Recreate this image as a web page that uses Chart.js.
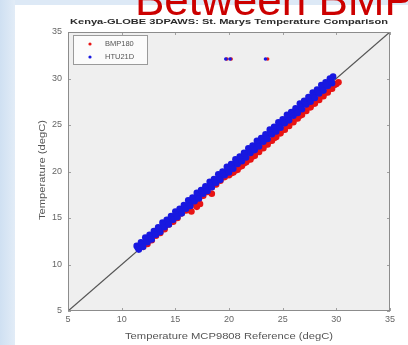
<!DOCTYPE html>
<html><head><meta charset="utf-8">
<script src="https://cdn.jsdelivr.net/npm/chart.js@4"></script>
<style>html,body{margin:0;padding:0;background:#fff;}#wrap{width:408px;height:345px;position:relative;}canvas{display:block;}</style>
</head><body><div id="wrap"><canvas id="c" width="408" height="345"></canvas></div>
<script>
// ---- data ----
const slideHeading = "Between BMP180 and HTU21D";
const chartTitle = "Kenya-GLOBE 3DPAWS: St. Marys Temperature Comparison";
const xAxisTitle = "Temperature MCP9808 Reference (degC)";
const yAxisTitle = "Temperature (degC)";
const tickValues = [5, 10, 15, 20, 25, 30, 35];
const seriesNames = ["BMP180", "HTU21D"];

// HTU21D (blue) – main band
const htuX = [11.4,11.8,12.2,12.6,13.0,13.4,13.8,14.2,14.6,15.0,15.4,15.8,16.2,16.6,17.0,17.4,17.8,18.2,18.6,19.0,19.4,19.8,20.2,20.6,21.0,21.4,21.8,22.2,22.6,23.0,23.4,23.8,24.2,24.6,25.0,25.4,25.8,26.2,26.6,27.0,27.4,27.8,28.2,28.6,29.0,29.4,29.7,
  11.5,11.9,12.3,12.7,13.1,13.5,13.9,14.3,14.7,15.1,15.5,15.9,16.3,16.7,17.1,17.5,17.9,18.3,18.7,19.1,19.5,19.9,20.3,20.7,21.1,21.5,21.9,22.3,22.7,23.1,23.5,23.9,24.3,24.7,25.1,25.5,25.9,26.3,26.7,27.1,27.5,27.9,28.3,28.7,29.1,29.5,
  11.6,12.0,12.4,12.8,13.2,13.6,14.0,14.4,14.8,15.2,15.6,16.0,16.4,16.8,17.2,17.6,18.0,18.4,18.8,19.2,19.6,20.0,20.4,20.8,21.2,21.6,22.0,22.4,22.8,23.2,23.6,24.0,24.4,24.8,25.2,25.6,26.0,26.4,26.8,27.2,27.6,28.0,28.4,28.8,29.2,29.6];
const htuY = [12.0,12.4,12.9,13.2,13.6,14.0,14.5,14.8,15.2,15.7,16.0,16.4,16.9,17.2,17.7,18.0,18.4,18.9,19.2,19.7,20.0,20.5,20.8,21.3,21.6,22.0,22.5,22.8,23.3,23.6,24.0,24.5,24.8,25.3,25.6,26.1,26.4,26.8,27.3,27.6,28.0,28.5,28.8,29.3,29.6,30.0,30.2,
  11.8,12.2,12.7,13.0,13.4,13.8,14.3,14.6,15.0,15.4,15.9,16.2,16.6,17.1,17.4,17.8,18.2,18.7,19.0,19.4,19.8,20.2,20.7,21.0,21.4,21.9,22.2,22.6,23.0,23.4,23.9,24.2,24.6,25.0,25.4,25.8,26.2,26.7,27.0,27.4,27.8,28.2,28.6,29.0,29.4,29.8,
  11.6,11.9,12.4,12.7,13.2,13.5,14.0,14.3,14.8,15.1,15.5,16.0,16.3,16.8,17.1,17.6,17.9,18.3,18.8,19.1,19.6,19.9,20.3,20.8,21.1,21.5,22.0,22.3,22.7,23.2,23.5,24.0,24.3,24.7,25.2,25.5,26.0,26.3,26.7,27.2,27.5,27.9,28.4,28.7,29.2,29.5];
// HTU21D – isolated readings near 32 degC
const htuOutX = [19.7, 20.1, 23.4];
const htuOutY = [32.1, 32.1, 32.1];

// BMP180 (red) – main band
const bmpX = [12.0,12.4,12.8,13.2,13.6,14.0,14.4,14.8,15.2,15.6,16.0,16.4,16.8,17.2,17.6,18.0,18.4,18.8,19.2,19.6,20.0,20.4,20.8,21.2,21.6,22.0,22.4,22.8,23.2,23.6,24.0,24.4,24.8,25.2,25.6,26.0,26.4,26.8,27.2,27.6,28.0,28.4,28.8,29.2,29.6,30.0,30.2,
  20.2,20.6,21.0,21.4,21.8,22.2,22.6,23.0,23.4,23.8,24.2,24.6,25.0,25.4,25.8,26.2,26.6,27.0,27.4,27.8,28.2,28.6,29.0,29.4,29.8,
  16.5,17.0,17.3,18.4];
const bmpY = [11.9,12.2,12.6,13.1,13.4,13.8,14.3,14.6,15.0,15.5,15.8,16.2,16.6,17.1,17.4,17.8,18.3,18.6,19.0,19.4,19.6,19.9,20.2,20.6,21.0,21.3,21.7,22.1,22.5,22.9,23.3,23.7,24.1,24.5,24.9,25.3,25.7,26.1,26.5,26.9,27.3,27.7,28.1,28.5,28.9,29.4,29.6,
  19.8,20.1,20.5,20.9,21.3,21.6,22.1,22.5,22.9,23.3,23.6,24.1,24.5,24.9,25.3,25.7,26.0,26.5,26.9,27.3,27.7,28.1,28.5,28.9,29.3,
  15.7,16.2,16.5,17.6];
// BMP180 – isolated readings near 32 degC
const bmpOutX = [19.8, 20.2, 23.6];
const bmpOutY = [32.1, 32.1, 32.1];

// 1:1 reference line
const refX = [5, 35];
const refY = [5, 35];

const pts = (xs, ys) => xs.map((x, i) => ({x: x, y: ys[i]}));
const colors = ["#e81414", "#1818e0"];

const FONT = "'Liberation Sans', Arial, sans-serif";
const PL = {left: 68, right: 390, top: 32, bottom: 311};

function fitText(ctx, text, cx, cy, font, targetW, rotate) {
  ctx.save();
  ctx.font = font;
  const w = ctx.measureText(text).width;
  ctx.translate(cx, cy);
  if (rotate) ctx.rotate(-Math.PI / 2);
  ctx.scale(targetW / w, 1);
  ctx.textAlign = 'center'; ctx.textBaseline = 'middle';
  ctx.fillText(text, 0, 0);
  ctx.restore();
}

const decor = {
  id: 'decor',
  beforeDraw(chart) {
    const ctx = chart.ctx, W = chart.width, H = chart.height;
    ctx.save();
    ctx.fillStyle = '#ffffff'; ctx.fillRect(0, 0, W, H);
    const g = ctx.createLinearGradient(0, 0, 15, 0);
    g.addColorStop(0, '#cfe0f2'); g.addColorStop(1, '#e2ecf7');
    ctx.fillStyle = g; ctx.fillRect(0, 0, 15, H);
    ctx.fillStyle = '#dde9f6'; ctx.fillRect(15, 0, W - 15, 5);
    ctx.fillStyle = '#cc0000';
    ctx.font = "44px " + FONT;
    ctx.textBaseline = 'alphabetic'; ctx.textAlign = 'left';
    ctx.fillText(slideHeading, 135, 15);
    const a = chart.chartArea;
    ctx.fillStyle = '#efefef';
    ctx.fillRect(a.left, a.top, a.right - a.left, a.bottom - a.top);
    ctx.restore();
  },
  afterDraw(chart) {
    const ctx = chart.ctx, a = chart.chartArea;
    const xs = chart.scales.x, ys = chart.scales.y;
    ctx.save();
    ctx.strokeStyle = '#a0a0a0'; ctx.lineWidth = 1;
    tickValues.forEach(v => {
      const px = Math.round(xs.getPixelForValue(v)) + 0.5;
      const py = Math.round(ys.getPixelForValue(v)) + 0.5;
      ctx.beginPath();
      ctx.moveTo(px, a.bottom); ctx.lineTo(px, a.bottom - 3);
      ctx.moveTo(px, a.top); ctx.lineTo(px, a.top + 3);
      ctx.moveTo(a.left, py); ctx.lineTo(a.left + 3, py);
      ctx.moveTo(a.right, py); ctx.lineTo(a.right - 3, py);
      ctx.stroke();
    });
    ctx.strokeStyle = '#8c8c8c';
    ctx.strokeRect(a.left + 0.5, a.top + 0.5, a.right - a.left - 1, a.bottom - a.top - 1);
    // title and axis titles
    ctx.fillStyle = '#2a2a2a';
    fitText(ctx, chartTitle, (a.left + a.right) / 2, 22, "bold 8px " + FONT, 318, false);
    ctx.fillStyle = '#555';
    fitText(ctx, xAxisTitle, 229, 337, "8.5px " + FONT, 208, false);
    fitText(ctx, yAxisTitle, 43, 170, "8.5px " + FONT, 100, true);
    // legend
    const lx = 73, ly = 35, lw = 74, lh = 29;
    ctx.fillStyle = '#fbfbfb'; ctx.fillRect(lx, ly, lw, lh);
    ctx.strokeStyle = '#9a9a9a'; ctx.strokeRect(lx + 0.5, ly + 0.5, lw, lh);
    seriesNames.forEach((name, i) => {
      const yy = ly + 9 + i * 13;
      ctx.fillStyle = colors[i];
      ctx.beginPath(); ctx.arc(lx + 17, yy, 1.6, 0, Math.PI * 2); ctx.fill();
      ctx.fillStyle = '#555'; ctx.textAlign = 'left'; ctx.textBaseline = 'middle';
      ctx.font = "7.5px " + FONT;
      ctx.fillText(name, lx + 32, yy);
    });
    ctx.restore();
  }
};

new Chart(document.getElementById('c'), {
  type: 'scatter',
  data: {
    datasets: [
      {label: seriesNames[1] + ' outliers', data: pts(htuOutX, htuOutY), backgroundColor: colors[1], pointRadius: 1.8, pointBorderWidth: 0, order: 1},
      {label: seriesNames[1], data: pts(htuX, htuY), backgroundColor: colors[1], pointRadius: 3.3, pointBorderWidth: 0, order: 2},
      {label: seriesNames[0] + ' outliers', data: pts(bmpOutX, bmpOutY), backgroundColor: colors[0], pointRadius: 1.8, pointBorderWidth: 0, order: 3},
      {label: seriesNames[0], data: pts(bmpX, bmpY), backgroundColor: colors[0], pointRadius: 3.3, pointBorderWidth: 0, order: 4},
      {label: '1:1', data: pts(refX, refY), type: 'line', showLine: true, borderColor: '#555', borderWidth: 1.3, pointRadius: 0, order: 5}
    ]
  },
  options: {
    responsive: false, animation: false,
    layout: {padding: {top: PL.top, right: 408 - PL.right, bottom: 0, left: 0}},
    plugins: {legend: {display: false}, tooltip: {enabled: false}, title: {display: false}},
    scales: {
      x: {
        type: 'linear', min: 5, max: 35,
        afterBuildTicks: s => { s.ticks = tickValues.map(v => ({value: v})); },
        afterFit: s => { s.height = 345 - PL.bottom; },
        grid: {display: false, drawTicks: false},
        border: {display: false},
        ticks: {padding: 3, color: '#666', font: {family: FONT, size: 9}, maxRotation: 0}
      },
      y: {
        type: 'linear', min: 5, max: 35,
        afterBuildTicks: s => { s.ticks = tickValues.map(v => ({value: v})); },
        afterFit: s => { s.width = PL.left; },
        grid: {display: false, drawTicks: false},
        border: {display: false},
        ticks: {padding: 6, color: '#666', font: {family: FONT, size: 9}}
      }
    }
  },
  plugins: [decor]
});
</script>
</body></html>
